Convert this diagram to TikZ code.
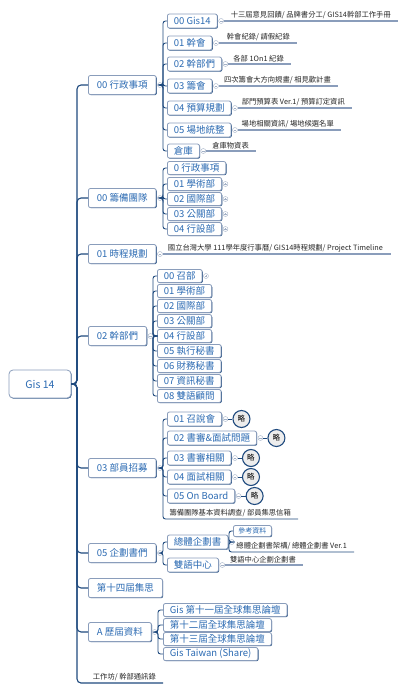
\documentclass[tikz,border=0pt]{standalone}
\usepackage{fontspec}
\setmainfont{Noto Sans CJK TC}
\usetikzlibrary{shadows}
\definecolor{navy}{HTML}{1F4A7E}
\definecolor{ink}{HTML}{2C6BB3}
\definecolor{pale}{HTML}{8A9DBB}
\definecolor{mkgray}{HTML}{A3B1C7}
\begin{document}
\begin{tikzpicture}[x=1pt, y=-1pt,
    box/.style={draw=pale, fill=white, line width=0.8pt, rounded corners=2pt, text=ink, anchor=west,
      font=\fontsize{9.5}{10}\selectfont, inner xsep=6.5pt, inner ysep=0pt, minimum height=14pt,
      drop shadow={shadow xshift=0.7pt, shadow yshift=-0.7pt, fill=navy, opacity=1}},
    stack/.style={box, minimum height=13pt},
    top/.style={box, minimum height=19pt, inner xsep=8.5pt},
    root/.style={box, anchor=center, minimum height=28pt, minimum width=62pt, rounded corners=4pt,
      font=\fontsize{10.5}{12}\selectfont},
    small/.style={box, minimum height=11pt, inner xsep=5pt, font=\fontsize{7}{8}\selectfont},
    note/.style={anchor=south east, inner xsep=7pt, inner ysep=2pt, text=black!85,
      font=\fontsize{7.3}{8}\selectfont},
    mk/.style={circle, draw=mkgray, fill=white, line width=0.4pt, inner sep=0pt, minimum size=5pt,
      path picture={\draw[mkgray, line width=0.4pt] ([xshift=-1.4pt]path picture bounding box.center)
        -- ([xshift=1.4pt]path picture bounding box.center);}},
    mkp/.style={circle, draw=mkgray, fill=white, line width=0.4pt, inner sep=0pt, minimum size=5pt,
      path picture={\draw[mkgray, line width=0.4pt] ([xshift=-1.4pt]path picture bounding box.center)
        -- ([xshift=1.4pt]path picture bounding box.center)
        ([yshift=-1.4pt]path picture bounding box.center) -- ([yshift=1.4pt]path picture bounding box.center);}},
    brief/.style={circle, draw=navy, fill=black!7, line width=1.1pt, minimum size=17pt, inner sep=0pt,
      font=\fontsize{7.5}{8}\selectfont},
    trunk/.style={draw=navy, line width=1.1pt, rounded corners=4pt},
    link/.style={draw=navy, line width=0.9pt, rounded corners=2.5pt},
    under/.style={draw=pale, line width=1.1pt}
  ]
  \useasboundingbox (0,0) rectangle (406,693);

  \node[root] (gis) at (40,384) {Gis 14};

  \node[top] (admin) at (88,85) {00 行政事項};
  \node[top] (prep) at (88,198) {00 籌備團隊};
  \node[top] (sched) at (88,254) {01 時程規劃};
  \node[top] (cadre) at (88,336) {02 幹部們};
  \node[top] (recruit) at (88,468) {03 部員招募};
  \node[top] (plan) at (88,553) {05 企劃書們};
  \node[top] (forum) at (88,588) {第十四屆集思};
  \node[top] (past) at (88,632) {A 歷屆資料};
  \node[note] (ws) at (163,683) {工作坊/ 幹部通訊錄};
  \coordinate (wsl) at (77,683);

  \draw[trunk] (gis.east) -| ([xshift=-11pt]admin.west) -- (admin.west);
  \draw[trunk] (gis.east) -| ([xshift=-11pt]prep.west) -- (prep.west);
  \draw[trunk] (gis.east) -| ([xshift=-11pt]sched.west) -- (sched.west);
  \draw[trunk] (gis.east) -| ([xshift=-11pt]cadre.west) -- (cadre.west);
  \draw[trunk] (gis.east) -| ([xshift=-11pt]recruit.west) -- (recruit.west);
  \draw[trunk] (gis.east) -| ([xshift=-11pt]plan.west) -- (plan.west);
  \draw[trunk] (gis.east) -| ([xshift=-11pt]forum.west) -- (forum.west);
  \draw[trunk] (gis.east) -| ([xshift=-11pt]past.west) -- (past.west);
  \draw[trunk] (gis.east) -| (wsl) -- (ws.south east);

  % 00 行政事項
  \node[box] (a0) at (167,21) {00 Gis14};
  \node[box] (a1) at (167,43) {01 幹會};
  \node[box] (a2) at (167,64) {02 幹部們};
  \node[box] (a3) at (167,86) {03 籌會};
  \node[box] (a4) at (167,108) {04 預算規劃};
  \node[box] (a5) at (167,130) {05 場地統整};
  \node[box] (a6) at (167,151) {倉庫};
  \node[mk] (madmin) at ([xshift=3.5pt]admin.east) {};
  \draw[link] (madmin.east) -| ([xshift=-4pt]a0.west) -- (a0.west);
  \draw[link] (madmin.east) -| ([xshift=-4pt]a1.west) -- (a1.west);
  \draw[link] (madmin.east) -| ([xshift=-4pt]a2.west) -- (a2.west);
  \draw[link] (madmin.east) -| ([xshift=-4pt]a3.west) -- (a3.west);
  \draw[link] (madmin.east) -| ([xshift=-4pt]a4.west) -- (a4.west);
  \draw[link] (madmin.east) -| ([xshift=-4pt]a5.west) -- (a5.west);
  \draw[link] (madmin.east) -| ([xshift=-4pt]a6.west) -- (a6.west);

  \node[mk] (ma0) at ([xshift=3.5pt]a0.east) {};
  \node[mk] (ma1) at ([xshift=3.5pt]a1.east) {};
  \node[mk] (ma2) at ([xshift=3.5pt]a2.east) {};
  \node[mk] (ma3) at ([xshift=3.5pt]a3.east) {};
  \node[mk] (ma4) at ([xshift=3.5pt]a4.east) {};
  \node[mk] (ma5) at ([xshift=3.5pt]a5.east) {};
  \node[mk] (ma6) at ([xshift=3.5pt]a6.east) {};
  \node[note] (na0) at (398,21) {十三屆意見回饋/ 品牌書分工/ GIS14幹部工作手冊};
  \node[note] (na1) at (297,43) {幹會紀錄/ 請假紀錄};
  \node[note] (na2) at (291,64) {各部 1On1 紀錄};
  \node[note] (na3) at (338,86) {四次籌會大方向規畫/ 相見歡計畫};
  \node[note] (na4) at (352,108) {部門預算表 Ver.1/ 預算訂定資訊};
  \node[note] (na5) at (341,130) {場地相關資訊/ 場地候選名單};
  \node[note] (na6) at (256,151) {倉庫物資表};
  \draw[under] (ma0.east) -- (na0.south east);
  \draw[under] (ma1.east) -- (na1.south east);
  \draw[under] (ma2.east) -- (na2.south east);
  \draw[under] (ma3.east) -- (na3.south east);
  \draw[under] (ma4.east) -- (na4.south east);
  \draw[under] (ma5.east) -- (na5.south east);
  \draw[under] (ma6.east) -- (na6.south east);

  % 00 籌備團隊
  \node[stack] (p0) at (167,168) {0 行政事項};
  \node[stack] (p1) at (167,184) {01 學術部};
  \node[stack] (p2) at (167,199) {02 國際部};
  \node[stack] (p3) at (167,214) {03 公關部};
  \node[stack] (p4) at (167,229) {04 行設部};
  \node[mk] (mprep) at ([xshift=3.5pt]prep.east) {};
  \draw[link] (mprep.east) -| ([xshift=-4pt]p0.west) -- (p0.west);
  \draw[link] (mprep.east) -| ([xshift=-4pt]p1.west) -- (p1.west);
  \draw[link] (mprep.east) -| ([xshift=-4pt]p2.west) -- (p2.west);
  \draw[link] (mprep.east) -| ([xshift=-4pt]p3.west) -- (p3.west);
  \draw[link] (mprep.east) -| ([xshift=-4pt]p4.west) -- (p4.west);
  \node[mkp] (mp1) at ([xshift=3.5pt]p1.east) {};
  \node[mkp] (mp2) at ([xshift=3.5pt]p2.east) {};
  \node[mkp] (mp3) at ([xshift=3.5pt]p3.east) {};
  \node[mkp] (mp4) at ([xshift=3.5pt]p4.east) {};

  % 01 時程規劃
  \node[mk] (msched) at ([xshift=3.5pt]sched.east) {};
  \node[note, inner xsep=8pt] (ns) at (391,254) {國立台灣大學 111學年度行事曆/ GIS14時程規劃/ Project Timeline};
  \draw[under] (msched.east) -- (ns.south east);

  % 02 幹部們
  \node[stack] (c0) at (157,276) {00 召部};
  \node[stack] (c1) at (157,291) {01 學術部};
  \node[stack] (c2) at (157,306) {02 國際部};
  \node[stack] (c3) at (157,321) {03 公關部};
  \node[stack] (c4) at (157,336) {04 行設部};
  \node[stack] (c5) at (157,351) {05 執行秘書};
  \node[stack] (c6) at (157,366) {06 財務秘書};
  \node[stack] (c7) at (157,381) {07 資訊秘書};
  \node[stack] (c8) at (157,396) {08 雙語顧問};
  \node[mk] (mcadre) at ([xshift=3.5pt]cadre.east) {};
  \draw[link] (mcadre.east) -| ([xshift=-4pt]c0.west) -- (c0.west);
  \draw[link] (mcadre.east) -| ([xshift=-4pt]c1.west) -- (c1.west);
  \draw[link] (mcadre.east) -| ([xshift=-4pt]c2.west) -- (c2.west);
  \draw[link] (mcadre.east) -| ([xshift=-4pt]c3.west) -- (c3.west);
  \draw[link] (mcadre.east) -| ([xshift=-4pt]c4.west) -- (c4.west);
  \draw[link] (mcadre.east) -| ([xshift=-4pt]c5.west) -- (c5.west);
  \draw[link] (mcadre.east) -| ([xshift=-4pt]c6.west) -- (c6.west);
  \draw[link] (mcadre.east) -| ([xshift=-4pt]c7.west) -- (c7.west);
  \draw[link] (mcadre.east) -| ([xshift=-4pt]c8.west) -- (c8.west);
  \node[mkp] (mc0) at ([xshift=3.5pt]c0.east) {};

  % 03 部員招募
  \node[box] (r1) at (167,419) {01 召說會};
  \node[box] (r2) at (167,438) {02 書審\&面試問題};
  \node[box] (r3) at (167,458) {03 書審相關};
  \node[box] (r4) at (167,477) {04 面試相關};
  \node[box] (r5) at (167,496) {05 On Board};
  \node[note] (r6) at (298,519) {籌備團隊基本資料調查/ 部員集思信箱};
  \coordinate (rb) at (163,519);
  \node[mk] (mrec) at ([xshift=3.5pt]recruit.east) {};
  \draw[link] (mrec.east) -| ([xshift=-4pt]r1.west) -- (r1.west);
  \draw[link] (mrec.east) -| ([xshift=-4pt]r2.west) -- (r2.west);
  \draw[link] (mrec.east) -| ([xshift=-4pt]r3.west) -- (r3.west);
  \draw[link] (mrec.east) -| ([xshift=-4pt]r4.west) -- (r4.west);
  \draw[link] (mrec.east) -| ([xshift=-4pt]r5.west) -- (r5.west);
  \draw[link] (mrec.east) -| (rb) -- (r6.south east);
  \node[mk] (mr1) at ([xshift=3.5pt]r1.east) {};
  \node[mk] (mr2) at ([xshift=3.5pt]r2.east) {};
  \node[mk] (mr3) at ([xshift=3.5pt]r3.east) {};
  \node[mk] (mr4) at ([xshift=3.5pt]r4.east) {};
  \node[mk] (mr5) at ([xshift=3.5pt]r5.east) {};
  \node[brief] (l1) at ([xshift=19.5pt]r1.east) {略};
  \node[brief] (l2) at ([xshift=19.5pt]r2.east) {略};
  \node[brief] (l3) at ([xshift=19.5pt]r3.east) {略};
  \node[brief] (l4) at ([xshift=19.5pt]r4.east) {略};
  \node[brief] (l5) at ([xshift=19.5pt]r5.east) {略};
  \draw[link] (mr1.east) -- (l1);
  \draw[link] (mr2.east) -- (l2);
  \draw[link] (mr3.east) -- (l3);
  \draw[link] (mr4.east) -- (l4);
  \draw[link] (mr5.east) -- (l5);

  % 05 企劃書們
  \node[box] (g1) at (167,542) {總體企劃書};
  \node[box] (g2) at (167,565) {雙語中心};
  \node[mk] (mplan) at ([xshift=3.5pt]plan.east) {};
  \draw[link] (mplan.east) -| ([xshift=-4pt]g1.west) -- (g1.west);
  \draw[link] (mplan.east) -| ([xshift=-4pt]g2.west) -- (g2.west);
  \node[mk] (mg1) at ([xshift=3.5pt]g1.east) {};
  \node[small] (g1a) at (233,531) {參考資料};
  \node[note] (g1b) at (354,552) {總體企劃書架構/ 總體企劃書 Ver.1};
  \coordinate (gb) at (229,552);
  \draw[link] (mg1.east) -| ([xshift=-4pt]g1a.west) -- (g1a.west);
  \draw[link] (mg1.east) -| (gb) -- (g1b.south east);
  \node[mk] (mg2) at ([xshift=3.5pt]g2.east) {};
  \node[note] (g2n) at (303,565) {雙語中心企劃企劃書};
  \draw[under] (mg2.east) -- (g2n.south east);

  % A 歷屆資料
  \node[stack] (h1) at (163,610) {Gis 第十一屆全球集思論壇};
  \node[stack] (h2) at (163,625) {第十二屆全球集思論壇};
  \node[stack] (h3) at (163,639) {第十三屆全球集思論壇};
  \node[stack] (h4) at (163,654) {Gis Taiwan (Share)};
  \node[mk] (mpast) at ([xshift=3pt]past.east) {};
  \draw[link] (mpast.east) -| ([xshift=-5pt]h1.west) -- (h1.west);
  \draw[link] (mpast.east) -| ([xshift=-5pt]h2.west) -- (h2.west);
  \draw[link] (mpast.east) -| ([xshift=-5pt]h3.west) -- (h3.west);
  \draw[link] (mpast.east) -| ([xshift=-5pt]h4.west) -- (h4.west);
\end{tikzpicture}
\end{document}
